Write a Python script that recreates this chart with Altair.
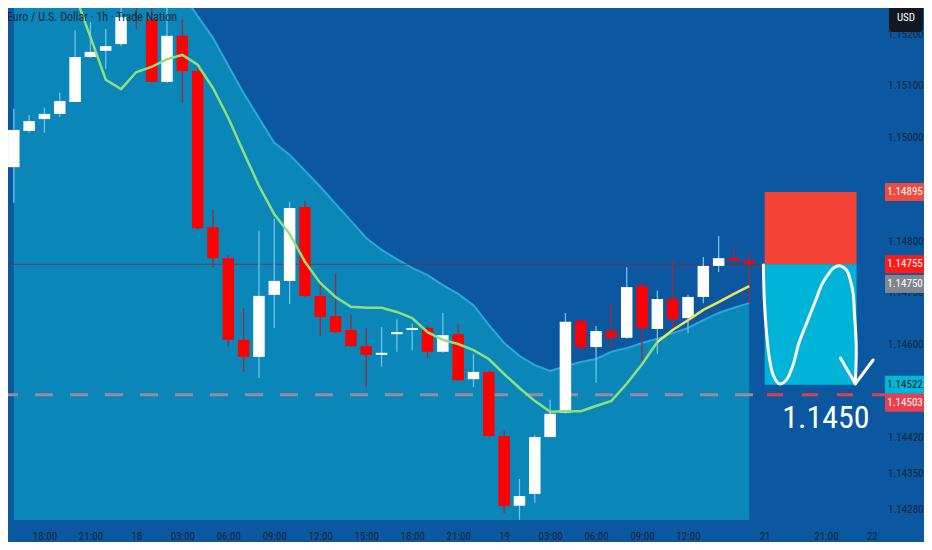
import altair as alt
import pandas as pd

# ---------------- data (1h EUR/USD, bar 0 = 17 Jun 16:00) ----------------
bar_idx = list(range(49))
opens = [1.14943, 1.15013, 1.15036, 1.15046, 1.15069, 1.15156, 1.15168, 1.15181, 1.15324, 1.15228,
         1.15108, 1.15197, 1.15129, 1.14827, 1.14767, 1.14609, 1.14576, 1.14696, 1.14723, 1.14866,
         1.14694, 1.14655, 1.14628, 1.14597, 1.14580, 1.14620, 1.14628, 1.14632, 1.14586, 1.14620,
         1.14533, 1.14547, 1.14423, 1.14288, 1.14311, 1.14421, 1.14468, 1.14646, 1.14595, 1.14626,
         1.14613, 1.14713, 1.14630, 1.14688, 1.14651, 1.14692, 1.14752, 1.14767, 1.14762]
highs = [1.15056, 1.15044, 1.15058, 1.15087, 1.15208, 1.15224, 1.15210, 1.15257, 1.15344, 1.15257,
         1.15266, 1.15228, 1.15137, 1.14860, 1.14773, 1.14671, 1.14820, 1.14843, 1.14876, 1.14878,
         1.14725, 1.14738, 1.14657, 1.14632, 1.14634, 1.14649, 1.14640, 1.14636, 1.14661, 1.14640,
         1.14582, 1.14549, 1.14433, 1.14340, 1.14425, 1.14493, 1.14661, 1.14647, 1.14636, 1.14678,
         1.14750, 1.14723, 1.14704, 1.14764, 1.14696, 1.14769, 1.14810, 1.14787, 1.14777]
lows = [1.14874, 1.15009, 1.15009, 1.15040, 1.15069, 1.15154, 1.15133, 1.15177, 1.15210, 1.15108,
        1.15106, 1.15067, 1.14822, 1.14750, 1.14595, 1.14547, 1.14535, 1.14632, 1.14678, 1.14692,
        1.14617, 1.14622, 1.14595, 1.14518, 1.14557, 1.14586, 1.14589, 1.14574, 1.14584, 1.14529,
        1.14518, 1.14421, 1.14274, 1.14261, 1.14294, 1.14421, 1.14466, 1.14588, 1.14526, 1.14593,
        1.14611, 1.14570, 1.14582, 1.14628, 1.14622, 1.14680, 1.14740, 1.14760, 1.14680]
closes = [1.15015, 1.15032, 1.15046, 1.15071, 1.15156, 1.15166, 1.15177, 1.15233, 1.15270, 1.15108,
          1.15197, 1.15129, 1.14825, 1.14767, 1.14609, 1.14576, 1.14694, 1.14723, 1.14864, 1.14694,
          1.14653, 1.14624, 1.14597, 1.14580, 1.14584, 1.14624, 1.14632, 1.14586, 1.14618, 1.14531,
          1.14547, 1.14423, 1.14288, 1.14307, 1.14421, 1.14466, 1.14644, 1.14595, 1.14626, 1.14613,
          1.14711, 1.14632, 1.14688, 1.14649, 1.14692, 1.14752, 1.14767, 1.14762, 1.14756]

# moving average line
ma_idx = list(range(4, 49))
ma_vals = [1.15276, 1.15195, 1.15112, 1.15094, 1.15127, 1.15137, 1.15152, 1.15160, 1.15141, 1.15096,
           1.15038, 1.14972, 1.14907, 1.14852, 1.14814, 1.14760, 1.14719, 1.14692, 1.14673, 1.14671,
           1.14671, 1.14663, 1.14651, 1.14624, 1.14609, 1.14601, 1.14589, 1.14572, 1.14543, 1.14516,
           1.14491, 1.14470, 1.14471, 1.14471, 1.14481, 1.14491, 1.14524, 1.14562, 1.14605, 1.14628,
           1.14647, 1.14667, 1.14682, 1.14698, 1.14713]
ma_yellow_from = 42

# cloud upper boundary
cloud_vals = [1.15350, 1.15350, 1.15350, 1.15350, 1.15350, 1.15350, 1.15350, 1.15350, 1.15350, 1.15350,
              1.15324, 1.15280, 1.15235, 1.15193, 1.15139, 1.15086, 1.15038, 1.14990, 1.14967, 1.14936,
              1.14905, 1.14872, 1.14839, 1.14806, 1.14783, 1.14765, 1.14748, 1.14734, 1.14715, 1.14698,
              1.14676, 1.14638, 1.14603, 1.14578, 1.14560, 1.14549, 1.14558, 1.14566, 1.14572, 1.14586,
              1.14593, 1.14603, 1.14611, 1.14622, 1.14632, 1.14647, 1.14661, 1.14671, 1.14680]

# trade setup
stop_price = 1.14895
entry_price = 1.14755
target_price = 1.14522
level_price = 1.14503
box_start, box_end = 49, 55
last_price = 1.14755
prev_close_price = 1.14750

# hand-drawn projection curve (bar index, price)
curve_idx = [48.92, 48.98, 49.11, 49.30, 49.56, 49.95, 50.40, 50.85, 51.24, 51.82, 52.34,
             52.72, 53.11, 53.50, 53.95, 54.34, 54.59, 54.79, 54.85, 54.98, 54.92]
curve_px = [1.14754, 1.14686, 1.14628, 1.14576, 1.14541, 1.14524, 1.14531, 1.14560, 1.14603, 1.14647,
            1.14686, 1.14715, 1.14734, 1.14748, 1.14752, 1.14744, 1.14725, 1.14696, 1.14667, 1.14595,
            1.14526]
arrow_idx = [53.95, 54.92, 56.08, 54.92]
arrow_px = [1.14574, 1.14524, 1.14570, 1.14524]
arrow_part = ["a", "a", "b", "b"]

# axis ticks
x_tick_idx = [2, 5, 8, 11, 14, 17, 20, 23, 26, 29, 32, 35, 38, 41, 44, 49, 53, 56]
x_tick_lbl = ["18:00", "21:00", "18", "03:00", "06:00", "09:00", "12:00", "15:00", "18:00",
              "21:00", "19", "03:00", "06:00", "09:00", "12:00", "21", "21:00", "22"]
y_ticks = [1.152, 1.151, 1.150, 1.148, 1.147, 1.146, 1.1442, 1.1435, 1.1428]

title_text = "Euro / U.S. Dollar · 1h · Trade Nation"
target_text = "1.1450"

# ---------------- styling ----------------
FONT = "Liberation Sans Narrow, Roboto Condensed, DejaVu Sans Condensed, Liberation Sans, sans-serif"
BG = "#0b57a0"
CLOUD = "#0a86b8"
CLOUD_EDGE = "#2aa8d8"
DARK_TXT = "#16263a"
W, H = 877, 512
RIGHT_PAD, BOTTOM_PAD = 39, 22

X_DOMAIN = [-0.052, 56.53]
Y_DOMAIN = [1.142606, 1.152508]

xscale = alt.Scale(domain=X_DOMAIN, nice=False, zero=False)
yscale = alt.Scale(domain=Y_DOMAIN, nice=False, zero=False)

lbl_expr = "[" + ",".join("'%s'" % s for s in x_tick_lbl) + "][indexof([" + \
    ",".join(str(v) for v in x_tick_idx) + "], datum.value)]"

xaxis = alt.Axis(values=x_tick_idx, labelExpr=lbl_expr, grid=False, ticks=False, domain=False,
                 labelFont=FONT, labelFontSize=11, labelColor=DARK_TXT, labelPadding=10,
                 labelOverlap=False, labelFlush=False)
yaxis = alt.Axis(values=y_ticks, format=".5f", orient="right", grid=False, ticks=False, domain=False,
                 labelFont=FONT, labelFontSize=11, labelColor=DARK_TXT, labelAlign="right",
                 labelPadding=38, labelOverlap=False, labelFlush=False)


def X(f):
    return alt.X(f, type="quantitative", scale=xscale, axis=xaxis, title=None)


def Y(f):
    return alt.Y(f, type="quantitative", scale=yscale, axis=yaxis, title=None)


candles = pd.DataFrame({"i": bar_idx, "open": opens, "high": highs, "low": lows, "close": closes})

ma = pd.DataFrame({"i": ma_idx, "v": ma_vals})
ma_green = ma[ma["i"] <= ma_yellow_from]
ma_yellow = ma[ma["i"] >= ma_yellow_from]

cloud = pd.DataFrame({"i": bar_idx, "v": cloud_vals, "b": [Y_DOMAIN[0]] * len(bar_idx)})

curve = pd.DataFrame({"i": curve_idx, "p": curve_px, "o": list(range(len(curve_idx)))})
arrow = pd.DataFrame({"i": arrow_idx, "p": arrow_px, "g": arrow_part, "o": list(range(4))})

stop_box = pd.DataFrame({"s": [box_start], "e": [box_end], "top": [stop_price], "bot": [entry_price]})
tgt_box = pd.DataFrame({"s": [box_start], "e": [box_end], "top": [entry_price], "bot": [target_price]})

UP = "datum.close >= datum.open"

layers = []

# cloud
layers.append(alt.Chart(cloud).mark_area(color=CLOUD, clip=True).encode(
    x=X("i"), y=Y("v"), y2="b"))
layers.append(alt.Chart(cloud).mark_line(color=CLOUD_EDGE, strokeWidth=2, clip=True).encode(
    x=X("i"), y=Y("v")))

# last price line
layers.append(alt.Chart(pd.DataFrame({"p": [last_price]})).mark_rule(
    color="#7c2c40", strokeWidth=1, opacity=0.8).encode(
    y=Y("p"), x=alt.value(0), x2=alt.value(752)))

# dashed level line
lvl = pd.DataFrame({"p": [level_price]})
layers.append(alt.Chart(lvl).mark_rule(color="#9a8aa0", strokeWidth=3, strokeDash=[18, 17]).encode(
    y=Y("p"), x=alt.value(-8), x2=alt.value(745)))
layers.append(alt.Chart(lvl).mark_rule(color="#e0404e", strokeWidth=3, strokeDash=[16, 19]).encode(
    y=Y("p"), x=alt.value(759), x2=alt.value(W + RIGHT_PAD)))

# trade box
layers.append(alt.Chart(stop_box).mark_rect(color="#f44336").encode(
    x=X("s"), x2="e", y=Y("top"), y2="bot"))
layers.append(alt.Chart(tgt_box).mark_rect(color="#00b4d8").encode(
    x=X("s"), x2="e", y=Y("top"), y2="bot"))

# candles
base = alt.Chart(candles)
layers.append(base.mark_rule(strokeWidth=1.3, clip=True).encode(
    x=X("i"), y=Y("low"), y2="high",
    color=alt.condition(UP, alt.value("#6cc4ec"), alt.value("#a02a36"))))
layers.append(base.mark_bar(size=11.5, clip=True).encode(
    x=X("i"), y=Y("open"), y2="close",
    color=alt.condition(UP, alt.value("#ffffff"), alt.value("#ff0000"))))

# moving average
layers.append(alt.Chart(ma_green).mark_line(color="#8fe07c", strokeWidth=2.5, clip=True).encode(
    x=X("i"), y=Y("v")))
layers.append(alt.Chart(ma_yellow).mark_line(color="#ece45a", strokeWidth=2.5, clip=True).encode(
    x=X("i"), y=Y("v")))

# projection curve + arrow
layers.append(alt.Chart(curve).mark_line(color="white", strokeWidth=3, interpolate="catmull-rom",
                                         strokeCap="round").encode(
    x=X("i"), y=Y("p"), order="o"))
layers.append(alt.Chart(arrow).mark_line(color="white", strokeWidth=3, strokeCap="round").encode(
    x=X("i"), y=Y("p"), detail="g", order="o"))

# big target text
layers.append(alt.Chart(pd.DataFrame({"i": [53.0], "p": [1.14458], "t": [target_text]})).mark_text(
    font=FONT, fontSize=32, color="white", align="center", baseline="middle").encode(
    x=X("i"), y=Y("p"), text="t"))

# axis price label boxes
BOX_X = 897
label_boxes = [
    (stop_price, "#ef4a3e", "white", 0),
    (last_price, "#ff1a1a", "white", 0),
    (prev_close_price, "#7f868e", "white", 17),
    (target_price, "#00b8d6", "#0a1a2a", 0),
    (level_price, "#e8404e", "white", 8),
]
for p, fill, tc, off in label_boxes:
    d = pd.DataFrame({"p": [p], "t": ["%.5f" % p]})
    layers.append(alt.Chart(d).mark_tick(orient="horizontal", size=40, thickness=18, color=fill,
                                         opacity=1).encode(
        y=Y("p"), x=alt.value(BOX_X), yOffset=alt.value(off)))
    layers.append(alt.Chart(d).mark_text(font=FONT, fontSize=11, color=tc, align="center",
                                         baseline="middle").encode(
        y=Y("p"), x=alt.value(BOX_X), yOffset=alt.value(off), text="t"))

# USD box
layers.append(alt.Chart(pd.DataFrame({"t": ["USD"]})).mark_rect(color="#131722", cornerRadius=4).encode(
    x=alt.value(881), x2=alt.value(915), y=alt.value(-3), y2=alt.value(24)))
layers.append(alt.Chart(pd.DataFrame({"t": ["USD"]})).mark_text(
    font=FONT, fontSize=11, color="white", align="center", baseline="middle").encode(
    x=alt.value(898), y=alt.value(10), text="t"))

# title
layers.append(alt.Chart(pd.DataFrame({"t": [title_text]})).mark_text(
    font=FONT, fontSize=12, color=DARK_TXT, align="left", baseline="middle").encode(
    x=alt.value(-1), y=alt.value(9), text="t"))

chart = alt.layer(*layers).properties(
    width=W, height=H,
    autosize=alt.AutoSizeParams(type="none"),
    padding={"left": 0, "top": 0, "right": RIGHT_PAD, "bottom": BOTTOM_PAD},
    background=BG,
).configure_view(stroke=None, fill=BG)

chart.save("out.html", embed_options={"renderer": "svg", "actions": False})
